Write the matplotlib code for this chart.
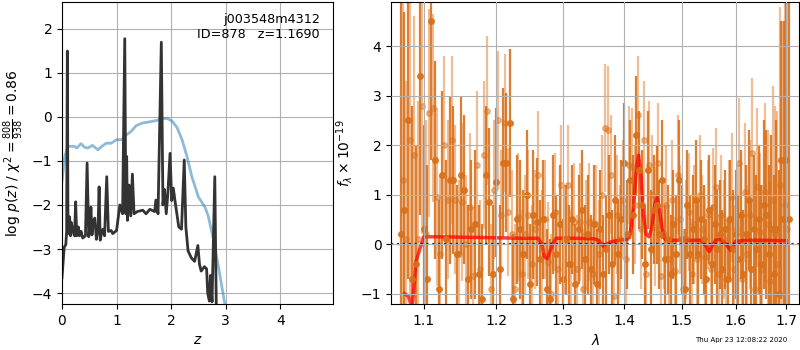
import numpy as np
import matplotlib
matplotlib.use("Agg")
import matplotlib.pyplot as plt
from matplotlib.ticker import NullLocator

# --- left panel: redshift fit ---
z_pz = [0.0, 0.04, 0.07, 0.085, 0.098, 0.11, 0.125, 0.14, 0.155, 0.17, 0.2, 0.23,
        0.25, 0.27, 0.3, 0.32, 0.35, 0.38, 0.43, 0.46, 0.49, 0.51, 0.53, 0.55,
        0.57, 0.6, 0.63, 0.66, 0.68, 0.7, 0.73, 0.75, 0.78, 0.82, 0.85, 0.9,
        0.93, 1.0, 1.06, 1.11, 1.15, 1.17, 1.185, 1.2, 1.23, 1.26, 1.29, 1.32,
        1.38, 1.48, 1.54, 1.61, 1.7, 1.72, 1.76, 1.82, 1.85, 1.88, 1.91, 1.94,
        1.98, 2.01, 2.04, 2.07, 2.14, 2.19, 2.24, 2.27, 2.31, 2.37, 2.43, 2.49,
        2.52, 2.55, 2.61, 2.65, 2.67, 2.7, 2.72, 2.75, 2.8, 2.83, 2.86]
lnp_pz = [-3.65, -2.96, -2.9, -2.6, 1.49, -2.65, -2.45, -2.27, -2.7, -2.4,
          -2.6, -2.7, -1.93, -2.7, -2.5, -2.7, -2.6, -2.75, -2.7, -1.05,
          -2.72, -2.5, -2.05, -2.68, -2.4, -2.3, -2.78, -2.55, -1.59, -2.8,
          -2.6, -2.55, -2.7, -1.36, -2.6, -2.58, -2.65, -2.58, -2.0, -2.2,
          1.77, -2.2, -0.9, -2.35, -1.55, -2.25, -1.3, -2.2, -2.15, -2.12,
          -2.2, -2.1, -2.15, -1.89, -2.2, 1.69, -2.0, -1.65, -2.2, -1.75,
          -0.83, -1.9, -1.62, -1.9, -2.5, -2.55, -0.98, -2.5, -3.04, -3.2,
          -3.28, -2.92, -3.35, -3.5, -3.4, -3.45, -4.0, -4.18, -3.6, -4.2,
          -1.36, -4.6, -5.0]

z_chi = [0.0, 0.05, 0.11, 0.17, 0.23, 0.27, 0.35, 0.41, 0.47, 0.56, 0.66, 0.72,
         0.81, 0.9, 1.0, 1.09, 1.18, 1.27, 1.36, 1.48, 1.63, 1.75, 1.84, 1.93,
         2.02, 2.11, 2.2, 2.29, 2.38, 2.5, 2.62, 2.68, 2.77, 2.86, 2.98, 3.05]
chi_curve = [-1.47, -0.9, -0.67, -0.67, -0.67, -0.71, -0.61, -0.69, -0.71,
             -0.65, -0.75, -0.68, -0.6, -0.6, -0.52, -0.52, -0.41, -0.33,
             -0.2, -0.14, -0.11, -0.08, -0.04, -0.04, -0.1, -0.25, -0.52,
             -0.9, -1.36, -1.82, -2.05, -2.25, -2.75, -3.35, -4.22, -4.7]

# --- right panel: spectrum (two beams) ---
wave_a = [1.070, 1.075, 1.080, 1.085, 1.090, 1.095, 1.100, 1.105, 1.110, 1.115,
          1.120, 1.125, 1.130, 1.135, 1.140, 1.145, 1.150, 1.155, 1.160, 1.165,
          1.170, 1.175, 1.180, 1.185, 1.190, 1.195, 1.200, 1.205, 1.210, 1.215,
          1.220, 1.225, 1.230, 1.235, 1.240, 1.245, 1.250, 1.255, 1.260, 1.265,
          1.270, 1.275, 1.280, 1.285, 1.290, 1.295, 1.300, 1.305, 1.310, 1.315,
          1.320, 1.325, 1.330, 1.335, 1.340, 1.345, 1.350, 1.355, 1.360, 1.365,
          1.370, 1.375, 1.380, 1.385, 1.390, 1.395, 1.400, 1.405, 1.410, 1.415,
          1.420, 1.425, 1.430, 1.435, 1.440, 1.445, 1.450, 1.455, 1.460, 1.465,
          1.470, 1.475, 1.480, 1.485, 1.490, 1.495, 1.500, 1.505, 1.510, 1.515,
          1.520, 1.525, 1.530, 1.535, 1.540, 1.545, 1.550, 1.555, 1.560, 1.565,
          1.570, 1.575, 1.580, 1.585, 1.590, 1.595, 1.600, 1.605, 1.610, 1.615,
          1.620, 1.625, 1.630, 1.635, 1.640, 1.645, 1.650, 1.655, 1.660, 1.665,
          1.670, 1.675, 1.680, 1.685, 1.690, 1.695, 1.700, 1.705]
flux_a = [0.2, 0.7, 2.5, -0.7, -0.4, 3.4, 0.3, -0.7, 4.5, 1.7,
          -0.9, 1.4, 0.1, 1.3, 1.3, -0.2, 1.4, 1.1, -0.7, 0.3,
          0.4, -0.6, -1.1, 1.4, 0.85, -0.6, 1.25, -0.5, 1.65, 1.65,
          2.45, -1.1, 0.5, 0.3, -0.2, 1.0, -0.8, 0.6, 0.45, -0.3,
          0.5, -0.9, -1.1, 0.6, -0.2, 0.4, -0.7, 0.1, -0.4, 0.5,
          -0.8, 0.3, 0.7, -0.3, 0.2, -0.5, 0.4, -0.8, 0.3, -0.6,
          -0.1, 0.6, -0.4, 0.9, -0.2, 0.5, 1.65, 0.2, 1.3, 0.6,
          2.2, 1.5, 0.8, -0.4, 1.5, -0.1, 0.7, 0.8, 0.2, 1.3,
          -0.3, 0.1, -0.6, 0.4, -0.2, 1.3, 0.1, -0.9, 0.8, -0.2,
          0.3, 0.9, -0.2, 0.5, 0.1, -0.7, 0.7, -0.4, 0.4, -0.1,
          0.2, -0.5, 0.3, -0.7, 0.5, -0.1, 0.2, -0.3, 0.6, -0.6,
          0.2, 0.9, -0.5, 0.3, -0.1, 0.5, -0.4, 0.8, 0.6, -0.2,
          0.3, -0.6, 0.3, -1.0, 1.7, 0.5, 1.7, 0.5]
err_a = [5.0, 4.0, 3.2, 3.5, 2.4, 2.8, 2.1, 2.3, 2.8, 2.0,
         1.8, 1.7, 1.6, 1.7, 1.5, 1.4, 1.6, 1.5, 1.5, 1.4,
         1.5, 1.4, 1.5, 1.4, 1.5, 1.4, 1.5, 1.3, 1.5, 1.4,
         1.5, 1.3, 1.3, 1.4, 1.3, 1.3, 1.2, 1.3, 1.3, 1.2,
         1.2, 1.2, 1.2, 1.2, 1.2, 1.2, 1.2, 1.1, 1.2, 1.1,
         1.2, 1.1, 1.2, 1.1, 1.2, 1.1, 1.2, 1.1, 1.2, 1.2,
         1.1, 1.2, 1.1, 1.3, 1.1, 1.2, 1.2, 1.1, 1.2, 1.2,
         1.2, 1.2, 1.1, 1.2, 1.2, 1.2, 1.1, 1.2, 1.1, 1.2,
         1.1, 1.1, 1.2, 1.1, 1.2, 1.2, 1.1, 1.2, 1.1, 1.2,
         1.1, 1.2, 1.1, 1.2, 1.1, 1.2, 1.1, 1.2, 1.2, 1.2,
         1.1, 1.2, 1.2, 1.2, 1.2, 1.2, 1.3, 1.3, 1.3, 1.3,
         1.4, 1.4, 1.4, 1.5, 1.5, 1.5, 1.6, 1.7, 1.7, 1.8,
         1.9, 2.0, 2.2, 2.5, 2.8, 4.0, 5.0, 6.0]

wave_b = [1.0725, 1.0775, 1.0825, 1.0875, 1.0925, 1.0975, 1.1025, 1.1075, 1.1125, 1.1175,
          1.1225, 1.1275, 1.1325, 1.1375, 1.1425, 1.1475, 1.1525, 1.1575, 1.1625, 1.1675,
          1.1725, 1.1775, 1.1825, 1.1875, 1.1925, 1.1975, 1.2025, 1.2075, 1.2125, 1.2175,
          1.2225, 1.2275, 1.2325, 1.2375, 1.2425, 1.2475, 1.2525, 1.2575, 1.2625, 1.2675,
          1.2725, 1.2775, 1.2825, 1.2875, 1.2925, 1.2975, 1.3025, 1.3075, 1.3125, 1.3175,
          1.3225, 1.3275, 1.3325, 1.3375, 1.3425, 1.3475, 1.3525, 1.3575, 1.3625, 1.3675,
          1.3725, 1.3775, 1.3825, 1.3875, 1.3925, 1.3975, 1.4025, 1.4075, 1.4125, 1.4175,
          1.4225, 1.4275, 1.4325, 1.4375, 1.4425, 1.4475, 1.4525, 1.4575, 1.4625, 1.4675,
          1.4725, 1.4775, 1.4825, 1.4875, 1.4925, 1.4975, 1.5025, 1.5075, 1.5125, 1.5175,
          1.5225, 1.5275, 1.5325, 1.5375, 1.5425, 1.5475, 1.5525, 1.5575, 1.5625, 1.5675,
          1.5725, 1.5775, 1.5825, 1.5875, 1.5925, 1.5975, 1.6025, 1.6075, 1.6125, 1.6175,
          1.6225, 1.6275, 1.6325, 1.6375, 1.6425, 1.6475, 1.6525, 1.6575, 1.6625, 1.6675,
          1.6725, 1.6775, 1.6825, 1.6875, 1.6925, 1.6975, 1.7025]
flux_b = [1.3, 0.1, 2.1, 1.8, 0.1, 2.8, 0.2, 2.65, 2.75, 0.95,
          -0.2, 2.0, 0.9, 2.1, 0.9, -0.2, 0.85, 0.0, 0.75, -0.65,
          1.6, -0.5, 1.8, 2.7, -0.9, 1.1, 2.5, 0.6, 2.45, 0.65,
          0.2, -0.9, 0.55, -0.6, 0.2, 0.6, -0.4, 0.3, 1.4, -0.1,
          0.5, -0.35, -1.0, 0.65, -0.5, 1.2, 0.1, 1.2, -0.4, 0.45,
          -0.5, 0.45, -0.9, 0.2, 0.45, -0.6, 0.4, -0.2, 1.0, 2.35,
          2.3, 1.4, -1.05, 0.6, 0.1, 0.9, -0.3, 1.6, 1.55, 0.8,
          2.6, 0.3, 2.1, -0.6, 1.6, 1.0, 0.35, 1.65, -0.65, 0.2,
          0.8, -0.3, 0.9, -0.55, 1.4, 0.5, -0.9, 0.1, 0.65, -0.6,
          0.4, -0.3, 1.0, 0.3, -0.25, 0.6, -0.5, 0.75, 1.15, -0.6,
          0.6, 0.1, -0.7, 0.5, 0.95, -0.5, 0.3, 1.65, -0.7, 1.05,
          -0.2, 0.6, 1.85, -0.9, 1.15, 0.25, -0.5, 1.05, 0.4, -0.75,
          0.9, 0.2, -0.4, 1.2, 0.5, 0.8, 0.3]
err_b = [4.0, 3.2, 3.2, 2.8, 2.8, 2.6, 2.3, 2.1, 1.9, 1.8,
         1.6, 1.8, 1.6, 1.7, 1.5, 1.5, 1.6, 1.4, 1.5, 1.4,
         1.5, 1.4, 1.5, 1.5, 1.3, 1.4, 1.4, 1.3, 1.4, 1.3,
         1.3, 1.3, 1.3, 1.3, 1.2, 1.3, 1.2, 1.2, 1.3, 1.2,
         1.2, 1.2, 1.2, 1.2, 1.2, 1.2, 1.1, 1.2, 1.1, 1.2,
         1.1, 1.2, 1.2, 1.1, 1.2, 1.1, 1.2, 1.1, 1.2, 1.3,
         1.3, 1.2, 1.2, 1.2, 1.1, 1.2, 1.1, 1.2, 1.2, 1.2,
         1.2, 1.2, 1.2, 1.2, 1.3, 1.2, 1.2, 1.2, 1.2, 1.1,
         1.2, 1.1, 1.2, 1.1, 1.2, 1.1, 1.2, 1.2, 1.2, 1.1,
         1.2, 1.1, 1.2, 1.1, 1.2, 1.1, 1.2, 1.2, 1.2, 1.2,
         1.2, 1.2, 1.2, 1.2, 1.3, 1.3, 1.3, 1.3, 1.4, 1.4,
         1.4, 1.5, 1.5, 1.5, 1.6, 1.6, 1.7, 1.8, 1.9, 2.0,
         2.3, 2.6, 3.1, 3.6, 4.0, 5.0, 6.0]

wave_model = [1.075, 1.080, 1.085, 1.090, 1.095, 1.100, 1.120, 1.160, 1.200, 1.240,
              1.262, 1.268, 1.272, 1.276, 1.280, 1.285, 1.290, 1.320, 1.350, 1.357,
              1.362, 1.366, 1.370, 1.378, 1.390, 1.405, 1.410, 1.415, 1.420, 1.424,
              1.428, 1.432, 1.437, 1.442, 1.447, 1.452, 1.456, 1.460, 1.465, 1.470,
              1.475, 1.500, 1.535, 1.545, 1.550, 1.555, 1.562, 1.570, 1.578, 1.585,
              1.590, 1.595, 1.600, 1.620, 1.660, 1.700]
flux_model = [-1.0, -1.05, -1.3, -0.35, -0.1, 0.15, 0.15, 0.14, 0.13, 0.12,
              0.12, 0.0, -0.25, -0.3, -0.15, 0.02, 0.12, 0.12, 0.11, 0.08,
              0.0, -0.05, 0.0, 0.05, 0.08, 0.1, 0.2, 0.7, 1.5, 1.8,
              1.4, 0.6, 0.2, 0.15, 0.35, 0.8, 0.95, 0.7, 0.3, 0.1,
              0.08, 0.08, 0.08, -0.05, -0.15, -0.05, 0.08, 0.1, 0.05, -0.05,
              -0.12, -0.05, 0.06, 0.08, 0.08, 0.07]

orange = '#d9701a'

fig = plt.figure(figsize=(8, 3.5), dpi=100)
ax1 = fig.add_axes([0.0775, 0.131, 0.339, 0.863])
ax2 = fig.add_axes([0.489, 0.131, 0.51, 0.863])

ax1.plot(z_chi, chi_curve, color='tab:blue', alpha=0.5, lw=2)
ax1.plot(z_pz, lnp_pz, color='0.2', lw=2)
ax1.set_xlim(0, 4.97)
ax1.set_ylim(-4.25, 2.6)
ax1.set_xticks([0, 1, 2, 3, 4])
ax1.set_yticks([-4, -3, -2, -1, 0, 1, 2])
ax1.grid(True)
ax1.set_xlabel('$z$')
ax1.set_ylabel(r'log $p(z)$ / $\chi^2=\frac{808}{938}=0.86$')
ax1.text(0.95, 0.965, 'j003548m4312\nID=878   z=1.1690', transform=ax1.transAxes,
         ha='right', va='top', fontsize=9.2)

ax2.errorbar(wave_b, flux_b, yerr=err_b, color=orange, alpha=0.45, marker='o',
             ms=4, linestyle='None', elinewidth=1.6)
ax2.errorbar(wave_a, flux_a, yerr=err_a, color=orange, alpha=0.9, marker='o',
             ms=4, linestyle='None', elinewidth=1.6)
ax2.plot(wave_model, flux_model, color='r', alpha=0.75, lw=2.5)
ax2.axhline(0, color='k', linestyle=':', lw=1.6, alpha=0.8)

ax2.set_xscale('log')
ax2.set_xlim(1.058, 1.727)
ax2.set_ylim(-1.21, 4.89)
ticks = [1.1, 1.2, 1.3, 1.4, 1.5, 1.6, 1.7]
ax2.set_xticks(ticks)
ax2.set_xticklabels(['%.1f' % t for t in ticks])
ax2.xaxis.set_minor_locator(NullLocator())
ax2.set_yticks([-1, 0, 1, 2, 3, 4])
ax2.set_axisbelow(False)
ax2.grid(True)
ax2.set_xlabel(r'$\lambda$')
ax2.set_ylabel(r'$f_\lambda\times10^{-19}$')

fig.text(0.984, 0.028, 'Thu Apr 23 12:08:22 2020', ha='right', va='center', fontsize=5)

fig.savefig('out.png', dpi=100)
